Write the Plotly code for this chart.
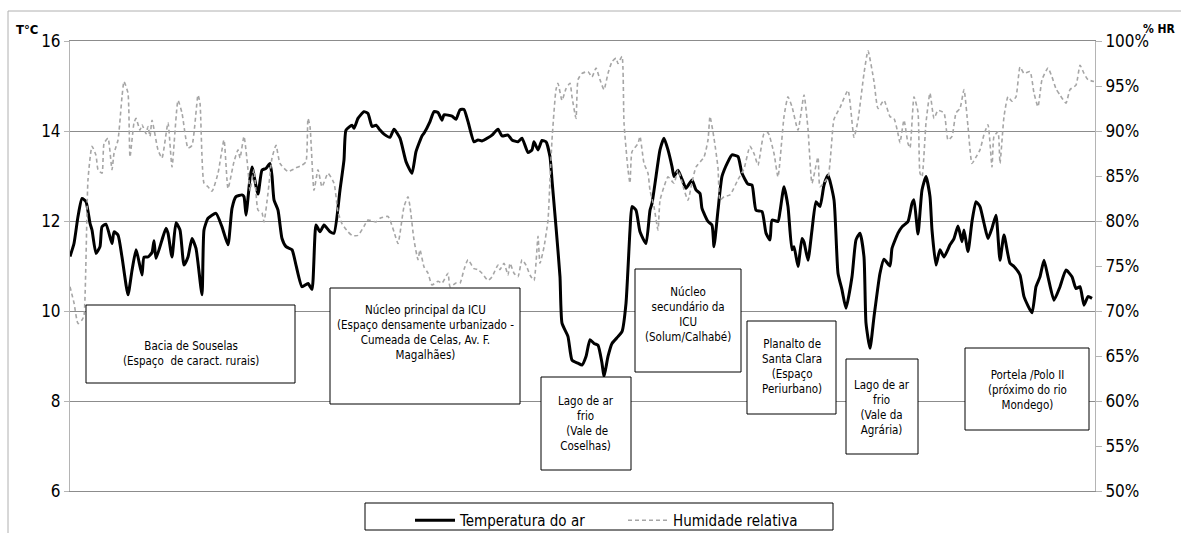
import plotly.graph_objects as go

# ---- data -------------------------------------------------------------
# sample number along the measurement transect
amostra_temp = [
    0, 2, 4, 6, 8, 10, 11, 13, 15, 16,
    18, 21, 22, 24, 26, 29, 31, 33, 34, 36,
    37, 39, 41, 42, 43, 46, 48, 49, 51, 53,
    55, 57, 59, 61, 63, 66, 67, 69, 73, 76,
    79, 81, 83, 86, 87, 88, 90, 91, 94, 96,
    98, 100, 101, 102, 104, 106, 108, 111, 113, 116,
    119, 121, 123, 125, 127, 130, 132, 135, 137, 138,
    141, 142, 144, 147, 149, 151, 153, 155, 157, 160,
    162, 165, 168, 171, 173, 176, 177, 180, 182, 184,
    186, 187, 191, 193, 195, 197, 199, 202, 204, 206,
    209, 211, 214, 216, 219, 221, 224, 226, 229, 231,
    232, 234, 236, 238, 240, 241, 243, 245, 246, 249,
    251, 254, 256, 258, 260, 262, 264, 266, 267, 269,
    271, 274, 276, 278, 280, 281, 283, 285, 288, 290,
    291, 293, 295, 297, 299, 301, 302, 304, 306, 308,
    311, 313, 315, 316, 319, 321, 322, 324, 326, 329,
    331, 334, 336, 339, 341, 343, 346, 348, 350, 351,
    354, 355, 357, 359, 361, 362, 364, 366, 367, 369,
    371, 373, 375, 377, 379, 382, 384, 386, 388, 391,
    393, 395, 397, 398, 400, 402, 405, 407, 410, 411,
    414, 416, 419, 421, 422, 424, 426, 428, 430, 431,
    433, 435, 437, 440, 442, 444, 446, 447, 449, 451,
    453, 455, 457, 459, 461, 463, 465, 467, 470, 472,
    475, 477, 481, 483, 485, 487, 489, 492, 495, 498,
    501, 503, 505, 507, 509, 511,
]
temperatura = [
    11.21, 11.5, 12.1, 12.5, 12.43, 11.95, 11.8, 11.28, 11.43, 11.87,
    11.93, 11.5, 11.76, 11.69, 11.2, 10.36, 10.9, 11.36, 11.2, 10.8,
    11.2, 11.2, 11.3, 11.56, 11.17, 11.58, 11.84, 11.73, 11.2, 11.96,
    11.8, 11.02, 11.2, 11.61, 11.39, 10.36, 11.8, 12.06, 12.17, 11.87,
    11.47, 12.28, 12.54, 12.58, 12.54, 12.13, 12.95, 13.2, 12.6, 13.13,
    13.17, 13.28, 13.0, 12.47, 12.24, 11.61, 11.43, 11.36, 11.02, 10.54,
    10.61, 10.48, 11.91, 11.76, 11.91, 11.76, 11.73, 12.69, 13.36, 14.02,
    14.13, 14.06, 14.28, 14.43, 14.39, 14.1, 14.13, 14.02, 13.93, 13.86,
    14.04, 13.84, 13.32, 13.06, 13.54, 13.89, 13.95, 14.21, 14.43, 14.41,
    14.24, 14.36, 14.33, 14.26, 14.47, 14.48, 14.21, 13.76, 13.8, 13.78,
    13.85, 13.91, 14.04, 13.89, 13.91, 13.8, 13.76, 13.84, 13.52, 13.58,
    13.76, 13.58, 13.79, 13.76, 13.43, 12.91, 11.87, 10.76, 9.73, 9.43,
    8.91, 8.84, 8.8, 8.99, 9.36, 9.28, 9.24, 8.84, 8.54, 8.99,
    9.28, 9.43, 9.54, 10.17, 11.8, 12.32, 12.24, 11.76, 11.5, 12.24,
    12.39, 12.99, 13.58, 13.84, 13.58, 13.21, 12.99, 13.13, 12.93, 12.73,
    12.91, 12.69, 12.61, 12.28, 11.99, 11.91, 11.43, 12.24, 12.99, 13.32,
    13.47, 13.43, 13.06, 12.82, 12.8, 12.24, 12.21, 11.73, 11.58, 12.02,
    11.99, 12.21, 12.76, 12.32, 11.36, 11.43, 10.99, 11.61, 11.53, 11.13,
    11.8, 12.43, 12.32, 12.8, 13.02, 12.47, 10.84, 10.47, 10.06, 10.76,
    11.58, 11.73, 11.2, 9.73, 9.17, 9.87, 10.84, 11.15, 11.0, 11.39,
    11.73, 11.87, 11.99, 12.39, 12.47, 11.71, 12.69, 12.99, 12.54, 11.8,
    11.02, 11.36, 11.2, 11.47, 11.61, 11.89, 11.54, 11.8, 11.32, 11.99,
    12.43, 12.32, 11.95, 11.61, 11.84, 12.13, 11.13, 11.69, 11.06, 10.99,
    10.8, 10.32, 9.96, 10.54, 10.76, 11.13, 10.76, 10.24, 10.54, 10.91,
    10.76, 10.5, 10.54, 10.13, 10.32, 10.28,
]

amostra_hr = [
    0, 2, 4, 6, 7, 9, 11, 13, 14, 16,
    17, 19, 21, 22, 24, 26, 27, 29, 30, 32,
    33, 35, 36, 38, 39, 40, 41, 44, 46, 49,
    51, 54, 56, 59, 61, 64, 65, 67, 69, 71,
    74, 77, 79, 82, 84, 85, 87, 89, 90, 92,
    94, 96, 97, 99, 101, 103, 105, 109, 113, 116,
    118, 119, 120, 122, 124, 126, 129, 132, 134, 136,
    139, 141, 144, 147, 149, 153, 155, 159, 162, 164,
    167, 169, 170, 172, 174, 175, 177, 179, 181, 184,
    186, 189, 190, 193, 195, 197, 199, 202, 204, 206,
    209, 211, 214, 215, 217, 219, 220, 222, 224, 226,
    228, 230, 232, 234, 235, 237, 239, 240, 241, 243,
    244, 246, 248, 250, 251, 253, 254, 256, 259, 261,
    263, 265, 267, 269, 271, 273, 274, 276, 277, 279,
    280, 281, 284, 285, 287, 289, 290, 292, 294, 295,
    297, 299, 302, 304, 307, 309, 311, 313, 317, 319,
    320, 322, 324, 325, 327, 330, 334, 337, 340, 342,
    344, 347, 349, 352, 354, 357, 359, 361, 364, 367,
    369, 371, 374, 375, 379, 382, 385, 389, 392, 394,
    397, 399, 402, 404, 407, 410, 412, 414, 415, 417,
    419, 420, 422, 424, 425, 426, 428, 430, 432, 434,
    437, 439, 441, 443, 445, 447, 449, 451, 453, 455,
    457, 459, 461, 462, 464, 465, 467, 469, 471, 473,
    475, 477, 480, 482, 484, 486, 489, 491, 493, 495,
    498, 500, 503, 505, 507, 509, 512,
]
humidade = [
    72.7, 70.9, 68.6, 69.0, 69.5, 84.6, 88.3, 87.3, 85.7, 85.3,
    88.6, 89.2, 85.7, 87.5, 89.0, 93.8, 95.5, 94.2, 87.1, 90.9,
    91.4, 90.1, 90.7, 89.7, 90.5, 89.4, 91.2, 87.9, 87.0, 90.9,
    86.0, 93.4, 92.0, 88.1, 88.4, 94.0, 93.1, 84.2, 83.8, 83.3,
    85.3, 89.0, 83.6, 86.6, 87.9, 87.0, 89.4, 85.7, 83.4, 85.7,
    81.2, 80.9, 79.9, 83.1, 87.0, 88.4, 86.4, 85.5, 85.9, 86.2,
    86.6, 91.4, 90.5, 83.4, 85.7, 83.8, 85.3, 84.2, 81.0, 79.7,
    78.8, 78.4, 78.4, 79.4, 80.1, 79.9, 80.3, 80.5, 78.8, 77.5,
    81.6, 82.7, 81.6, 77.9, 75.7, 76.8, 74.9, 74.2, 72.9, 73.3,
    73.1, 74.2, 72.7, 73.1, 73.1, 74.6, 75.7, 74.7, 74.6, 74.2,
    73.4, 73.8, 75.1, 74.6, 75.3, 74.0, 75.3, 74.2, 73.8, 75.7,
    75.1, 74.0, 73.4, 78.3, 75.3, 77.1, 80.1, 84.6, 89.0, 94.6,
    95.3, 93.4, 94.7, 95.3, 93.8, 91.4, 95.7, 96.4, 96.6, 96.0,
    97.0, 95.7, 94.6, 96.4, 97.7, 98.1, 97.5, 98.3, 90.9, 85.7,
    84.2, 87.7, 88.6, 89.4, 86.4, 85.3, 83.4, 81.6, 79.0, 82.3,
    83.8, 84.9, 84.2, 85.7, 83.5, 82.3, 84.3, 86.0, 87.1, 89.0,
    91.6, 89.2, 85.9, 82.3, 82.7, 82.9, 84.6, 85.8, 88.3, 87.5,
    86.2, 89.7, 89.8, 87.5, 84.9, 91.6, 93.8, 92.7, 90.1, 94.0,
    90.2, 84.2, 87.1, 83.8, 84.9, 91.3, 92.6, 94.5, 89.3, 91.2,
    96.4, 98.9, 95.5, 92.5, 93.4, 91.6, 91.4, 89.7, 88.7, 91.2,
    88.6, 88.1, 93.8, 92.1, 85.3, 84.9, 90.9, 94.2, 91.4, 92.3,
    92.0, 89.0, 89.4, 92.0, 92.5, 94.6, 90.5, 86.4, 87.1, 87.9,
    89.6, 90.7, 86.0, 89.4, 89.9, 86.4, 91.6, 93.8, 93.3, 93.8,
    97.1, 96.4, 96.6, 94.2, 92.7, 95.7, 97.0, 96.0, 94.7, 94.0,
    93.1, 94.6, 95.1, 97.3, 96.4, 95.7, 95.5,
]

temp_ticks = [6, 8, 10, 12, 14, 16]
hr_ticks = [50, 55, 60, 65, 70, 75, 80, 85, 90, 95, 100]

# zone descriptions along the transect
zonas = [
    "Bacia de Souselas<br>(Espaço  de caract. rurais)",
    "Núcleo principal da ICU<br>(Espaço densamente urbanizado -<br>Cumeada de Celas, Av. F.<br>Magalhães)",
    "Lago de ar<br>frio<br> (Vale de<br>Coselhas)",
    "Núcleo<br>secundário da<br>ICU<br>(Solum/Calhabé)",
    "Planalto de<br>Santa Clara<br>(Espaço<br>Periurbano)",
    "Lago de ar<br>frio<br>(Vale da<br>Agrária)",
    "Portela /Polo II<br>(próximo do rio<br>Mondego)",
]

# ---- layout helpers ---------------------------------------------------
W, H = 1181, 533
ML, MR, MT, MB = 70, 86, 41, 42
PW, PH = W - ML - MR, H - MT - MB


def px(x):
    return (x - ML) / PW


def py(y):
    return (H - MB - y) / PH


# box rectangles (left, top, right, bottom) and text centre, in page pixels
caixas = [
    ((86, 305, 295, 383), (190.5, 354)),
    ((330, 288, 520, 404), (425, 332)),
    ((541, 377, 631, 470), (586, 423)),
    ((635, 269, 741, 372), (688, 314)),
    ((747, 321, 836, 414), (791.5, 366.5)),
    ((846, 359, 918, 454), (882, 407.5)),
    ((965, 348, 1089, 430), (1027, 390)),
]

FONT = "DejaVu Sans Condensed, Liberation Sans Narrow, sans-serif"
GRID = "#8c8c8c"

fig = go.Figure()
fig.add_trace(go.Scatter(
    x=amostra_temp, y=temperatura, name="Temperatura do ar",
    mode="lines", line=dict(color="black", width=3, shape="spline", smoothing=0.5),
    yaxis="y",
))
fig.add_trace(go.Scatter(
    x=amostra_hr, y=humidade, name="Humidade relativa",
    mode="lines", line=dict(color="#a6a6a6", width=1.6, dash="4px,3px",
                            shape="spline", smoothing=0.5),
    yaxis="y2",
))

shapes = []
annotations = []
for (x0, y0, x1, y1), (cx, cy) in caixas:
    shapes.append(dict(type="rect", xref="paper", yref="paper",
                       x0=px(x0), x1=px(x1), y0=py(y1), y1=py(y0),
                       line=dict(color="black", width=1), fillcolor="white",
                       layer="above"))
for texto, (_, (cx, cy)) in zip(zonas, caixas):
    annotations.append(dict(text=texto, xref="paper", yref="paper",
                            x=px(cx), y=py(cy), xanchor="center", yanchor="middle",
                            showarrow=False, align="center",
                            font=dict(family=FONT, size=11.5, color="black")))

# outer chart frame
shapes.append(dict(type="rect", xref="paper", yref="paper",
                   x0=px(8), x1=px(1200), y0=py(560), y1=py(11),
                   line=dict(color="#b0b0b0", width=1), fillcolor="rgba(0,0,0,0)",
                   layer="below"))
# legend frame
shapes.append(dict(type="rect", xref="paper", yref="paper",
                   x0=px(365), x1=px(833), y0=py(530), y1=py(503),
                   line=dict(color="black", width=1), fillcolor="white",
                   layer="above"))

annotations.append(dict(text="<b>T°C</b>", xref="paper", yref="paper",
                        x=px(14), y=py(29), xanchor="left", yanchor="middle",
                        showarrow=False, font=dict(family=FONT, size=13, color="black")))
annotations.append(dict(text="<b>% HR</b>", xref="paper", yref="paper",
                        x=px(1178), y=py(29), xanchor="right", yanchor="middle",
                        showarrow=False, font=dict(family=FONT, size=12, color="black")))

fig.update_layout(
    width=W, height=H,
    margin=dict(l=ML, r=MR, t=MT, b=MB, autoexpand=False),
    paper_bgcolor="white", plot_bgcolor="white",
    font=dict(family=FONT, color="black"),
    showlegend=True,
    legend=dict(orientation="h", x=px(410), y=py(504), xanchor="left", yanchor="top",
                bgcolor="rgba(0,0,0,0)", borderwidth=0, entrywidth=158,
                font=dict(family=FONT, size=15, color="black"), itemwidth=40),
    xaxis=dict(range=[0, 512.5], showticklabels=False, showgrid=False, zeroline=False,
               ticks="", showline=True, linecolor=GRID, linewidth=1, mirror=True),
    yaxis=dict(range=[6, 16], tickvals=temp_ticks, showgrid=True, gridcolor=GRID,
               gridwidth=1, zeroline=False, showline=True, linecolor="#b4b4b4",
               ticks="outside", ticklen=5, tickcolor="#b4b4b4",
               tickfont=dict(family=FONT, size=17, color="black")),
    yaxis2=dict(range=[50, 100], tickvals=hr_ticks,
                ticktext=[f"{v}%" for v in hr_ticks], overlaying="y", side="right",
                showgrid=False, zeroline=False, showline=True, linecolor="#b4b4b4",
                ticks="outside", ticklen=6, tickcolor="#b4b4b4",
                tickfont=dict(family=FONT, size=17, color="black")),
    shapes=shapes,
    annotations=annotations,
)

fig.write_html("out.html")
